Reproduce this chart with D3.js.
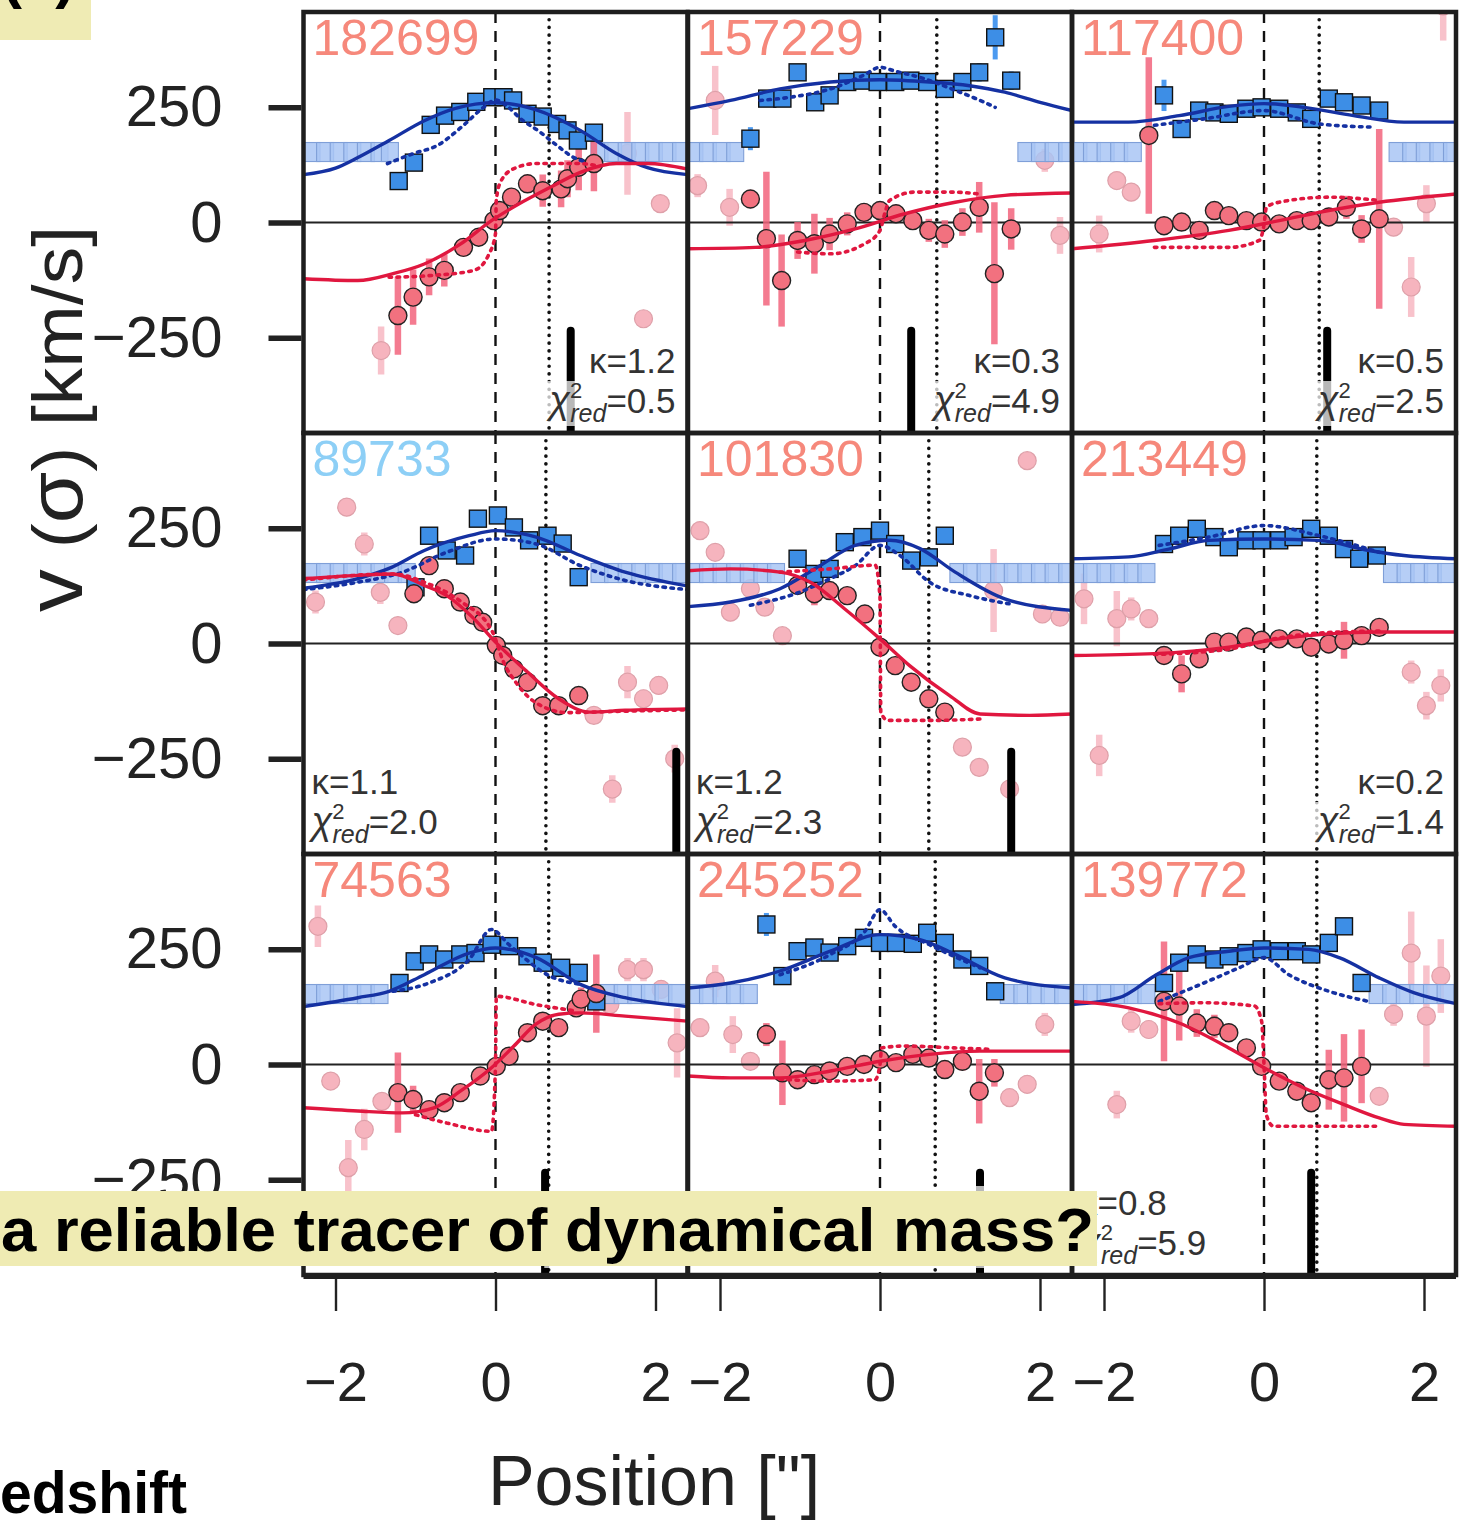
<!DOCTYPE html>
<html>
<head>
<meta charset="utf-8">
<script src="https://cdn.jsdelivr.net/npm/d3@7"></script>
<style>
  body { margin: 0; background: #fff; }
  svg { display: block; }
</style>
</head>
<body>
<div id="chart"></div>
<script>
// Panels are read left to right, top to bottom
const galaxyIds = ["182699", "157229", "117400", "89733", "101830", "213449", "74563", "245252", "139772"];
const kappaValues = ["1.2", "0.3", "0.5", "1.1", "1.2", "0.2", "0.9", "0.7", "0.8"];
const chiValues = ["0.5", "4.9", "2.5", "2.0", "2.3", "1.4", "1.6", "1.2", "5.9"];
const dottedLineX = [0.67, 0.71, 0.69, 0.63, 0.61, 0.66, 0.665, 0.69, 0.66];
const beamBarX = [0.94, 0.39, 0.79, 2.26, 1.64, null, 0.62, 1.25, 0.59];
const beamBarTop = -235;
const maskedLevel = 153;
const xTicks = [-2, 0, 2];
const yTicks = [-250, 0, 250];

// sigma outside the fitted range (pale squares)
const maskedX = [
  [-2.30, -2.13, -1.96, -1.79, -1.62, -1.45, -1.32, 1.30, 1.47, 1.64, 1.81, 1.98, 2.15, 2.32],
  [-2.32, -2.15, -1.98, -1.81, 1.83, 2.00, 2.17, 2.34],
  [-2.32, -2.15, -1.98, -1.81, -1.64, 1.67, 1.84, 2.01, 2.18, 2.35],
  [-2.30, -2.13, -1.96, -1.79, -1.62, -1.45, -1.28, -1.11, 1.30, 1.47, 1.64, 1.81, 1.98, 2.15, 2.32],
  [-2.32, -2.15, -1.98, -1.81, -1.64, -1.47, -1.30, 0.98, 1.15, 1.32, 1.49, 1.66, 1.83, 2.00, 2.17, 2.34],
  [-2.32, -2.15, -1.98, -1.81, -1.64, -1.47, 1.60, 1.77, 1.94, 2.11, 2.28],
  [-2.30, -2.13, -1.96, -1.79, -1.62, -1.45, 1.42, 1.59, 1.76, 1.93, 2.10, 2.27],
  [-2.32, -2.15, -1.98, -1.81, -1.64, 1.61, 1.78, 1.95, 2.12, 2.29],
  [-2.32, -2.15, -1.98, -1.81, -1.64, -1.47, 1.42, 1.59, 1.76, 1.93, 2.10, 2.27]
];

// [position, sigma, error]
const sigmaObs = [
  [[-1.21, 90, 12], [-1.02, 130, 12], [-0.81, 212, 10], [-0.63, 232, 10], [-0.44, 240, 10], [-0.24, 262, 10], [-0.04, 272, 14], [0.10, 272, 14], [0.22, 265, 10], [0.40, 236, 10], [0.59, 230, 10], [0.77, 214, 10], [0.90, 200, 10], [1.03, 178, 12], [1.23, 195, 12]],
  [[-1.62, 182, 25], [-1.41, 269, 15], [-1.22, 269, 12], [-1.03, 326, 15], [-0.81, 261, 12], [-0.63, 276, 10], [-0.41, 305, 10], [-0.22, 308, 10], [-0.03, 305, 10], [0.19, 305, 10], [0.38, 308, 10], [0.59, 305, 10], [0.81, 290, 12], [1.03, 305, 12], [1.24, 326, 20], [1.44, 402, 48], [1.64, 308, 20]],
  [[-1.25, 276, 34], [-1.03, 203, 12], [-0.81, 243, 10], [-0.62, 239, 10], [-0.44, 236, 10], [-0.22, 247, 10], [-0.03, 250, 10], [0.19, 247, 10], [0.41, 239, 10], [0.59, 225, 10], [0.81, 269, 12], [1.00, 261, 12], [1.22, 254, 12], [1.44, 243, 15]],
  [[-1.00, 122, 12], [-0.83, 234, 12], [-0.61, 202, 12], [-0.38, 191, 12], [-0.22, 271, 12], [0.03, 278, 12], [0.23, 252, 10], [0.42, 224, 10], [0.65, 234, 10], [0.84, 217, 10], [1.04, 144, 12]],
  [[-1.03, 184, 12], [-0.82, 151, 12], [-0.63, 162, 12], [-0.44, 220, 12], [-0.22, 231, 10], [0.00, 245, 10], [0.19, 216, 10], [0.39, 180, 10], [0.61, 187, 12], [0.81, 234, 12]],
  [[-1.25, 216, 15], [-1.06, 234, 12], [-0.84, 249, 12], [-0.62, 231, 10], [-0.44, 209, 10], [-0.22, 224, 10], [-0.03, 224, 10], [0.19, 224, 10], [0.37, 231, 10], [0.59, 249, 10], [0.81, 234, 10], [1.00, 205, 12], [1.19, 184, 12], [1.41, 191, 15]],
  [[-1.20, 177, 12], [-1.01, 224, 12], [-0.83, 239, 10], [-0.64, 228, 10], [-0.44, 239, 10], [-0.25, 242, 10], [-0.05, 260, 10], [0.17, 257, 10], [0.40, 235, 10], [0.59, 221, 10], [0.82, 210, 10], [1.04, 199, 12], [1.26, 137, 15]],
  [[-1.42, 304, 25], [-1.22, 192, 12], [-1.03, 246, 12], [-0.82, 254, 10], [-0.63, 243, 10], [-0.41, 257, 10], [-0.20, 275, 10], [0.00, 264, 10], [0.20, 264, 10], [0.41, 262, 10], [0.59, 286, 12], [0.81, 264, 12], [1.03, 228, 12], [1.24, 214, 12], [1.44, 159, 12]],
  [[-1.25, 177, 15], [-1.06, 221, 12], [-0.84, 239, 10], [-0.62, 228, 10], [-0.44, 235, 10], [-0.22, 242, 10], [-0.03, 250, 10], [0.19, 246, 10], [0.41, 246, 10], [0.59, 239, 10], [0.81, 264, 12], [1.00, 300, 15], [1.22, 177, 15]]
];

// [position, velocity, error]
const velObs = [
  [[-1.22, -202, 85], [-1.03, -162, 60], [-0.83, -118, 40], [-0.64, -104, 35], [-0.40, -54, 20], [-0.21, -32, 18], [-0.02, 4, 15], [0.05, 26, 15], [0.20, 55, 15], [0.40, 84, 20], [0.59, 69, 35], [0.82, 73, 40], [0.90, 95, 40], [1.04, 120, 50], [1.23, 128, 60]],
  [[-1.62, 51, 20], [-1.42, -35, 145], [-1.23, -126, 100], [-1.03, -39, 40], [-0.82, -46, 65], [-0.63, -25, 35], [-0.41, -3, 25], [-0.20, 22, 20], [0.00, 26, 20], [0.20, 19, 20], [0.41, 4, 20], [0.61, -17, 25], [0.81, -25, 30], [1.03, 1, 30], [1.24, 33, 55], [1.43, -111, 155], [1.64, -14, 45]],
  [[-1.44, 189, 170], [-1.25, -7, 15], [-1.03, 1, 15], [-0.81, -17, 20], [-0.62, 26, 15], [-0.44, 15, 15], [-0.22, 4, 15], [-0.03, 1, 15], [0.19, -3, 15], [0.41, 4, 15], [0.59, 4, 15], [0.81, 12, 20], [1.03, 33, 25], [1.22, -14, 30], [1.44, 8, 195]],
  [[-1.02, 108, 20], [-0.83, 169, 20], [-0.64, 119, 20], [-0.44, 90, 15], [-0.27, 61, 15], [-0.16, 46, 15], [0.01, -4, 15], [0.09, -26, 15], [0.23, -55, 15], [0.40, -84, 15], [0.59, -135, 15], [0.79, -135, 15], [1.04, -113, 15]],
  [[-1.03, 126, 20], [-0.82, 108, 25], [-0.63, 115, 15], [-0.41, 104, 15], [-0.19, 64, 15], [0.00, -8, 15], [0.19, -48, 15], [0.39, -84, 15], [0.61, -120, 15], [0.81, -149, 20]],
  [[-1.25, -26, 20], [-1.03, -66, 40], [-0.81, -33, 20], [-0.62, 3, 15], [-0.44, 3, 15], [-0.22, 14, 15], [-0.03, 7, 15], [0.19, 10, 15], [0.41, 10, 15], [0.59, -8, 15], [0.81, -1, 20], [1.00, 7, 40], [1.22, 17, 20], [1.44, 35, 15]],
  [[-1.22, -61, 87], [-1.03, -76, 30], [-0.83, -98, 20], [-0.64, -83, 20], [-0.44, -61, 15], [-0.19, -25, 15], [0.01, -4, 15], [0.17, 18, 15], [0.40, 69, 15], [0.59, 94, 15], [0.79, 80, 15], [1.01, 123, 20], [1.07, 142, 25], [1.26, 154, 85]],
  [[-1.42, 65, 25], [-1.22, -18, 70], [-1.03, -33, 20], [-0.82, -22, 15], [-0.63, -14, 15], [-0.41, -4, 15], [-0.20, 0, 15], [0.00, 11, 15], [0.20, 4, 15], [0.41, 22, 15], [0.61, 14, 15], [0.81, -11, 20], [1.03, 7, 20], [1.24, -58, 70], [1.43, -18, 30]],
  [[-1.25, 137, 130], [-1.06, 127, 75], [-0.84, 90, 30], [-0.62, 83, 25], [-0.44, 69, 20], [-0.22, 36, 15], [-0.03, -4, 15], [0.19, -36, 15], [0.41, -58, 15], [0.59, -83, 15], [0.81, -33, 65], [1.00, -29, 95], [1.22, -4, 80]]
];

// excluded velocity points (pale circles)
const velExcl = [
  [[-1.43, -278, 52], [1.65, 150, 90], [1.85, -209, 15], [2.06, 41, 15]],
  [[-2.28, 80, 25], [-2.06, 265, 75], [-1.88, 33, 40], [2.06, 135, 25], [2.25, -28, 40]],
  [[-2.06, -25, 40], [-1.84, 91, 20], [-1.66, 66, 20], [1.62, -10, 20], [1.84, -140, 65], [2.03, 41, 40], [2.24, 470, 75]],
  [[-2.25, 90, 25], [-1.86, 296, 20], [-1.64, 216, 25], [-1.44, 111, 25], [-1.22, 39, 15], [1.23, -156, 15], [1.46, -316, 30], [1.65, -84, 35], [1.85, -120, 20], [2.04, -91, 20], [2.24, -250, 30]],
  [[-2.25, 245, 20], [-2.06, 198, 15], [-1.87, 68, 20], [-1.62, 119, 20], [-1.44, 79, 15], [-1.22, 17, 15], [1.03, -225, 15], [1.24, -269, 15], [1.42, 115, 90], [1.62, -316, 20], [1.84, 397, 15], [2.03, 64, 20], [2.25, 57, 15]],
  [[-2.25, 97, 55], [-2.06, -243, 45], [-1.84, 54, 60], [-1.66, 75, 25], [-1.44, 54, 20], [1.84, -62, 25], [2.03, -135, 30], [2.21, -91, 35]],
  [[-2.22, 300, 45], [-2.06, -36, 15], [-1.84, -224, 60], [-1.64, -141, 45], [-1.42, -80, 15], [1.43, 130, 20], [1.65, 206, 25], [1.85, 206, 25], [2.07, 163, 20], [2.27, 47, 75]],
  [[-2.25, 80, 20], [-2.06, 181, 35], [-1.84, 65, 40], [-1.62, 7, 15], [1.62, -72, 20], [1.84, -43, 20], [2.06, 87, 25]],
  [[-1.84, -87, 30], [-1.66, 94, 25], [-1.44, 76, 20], [1.44, -69, 15], [1.62, 109, 25], [1.84, 242, 90], [2.03, 105, 110], [2.21, 192, 80]]
];

// model curves, [position, value]
const sigmaFit = [
  [[-2.4, 104], [-2.0, 118], [-1.72, 141], [-1.33, 178], [-0.89, 221], [-0.5, 248], [0, 260], [0.5, 245], [1.06, 200], [1.51, 150], [1.9, 119], [2.4, 104]],
  [[-2.4, 247], [-1.87, 265], [-1.25, 290], [-0.62, 305], [0, 310], [0.62, 305], [1.12, 297], [1.56, 283], [2.0, 261], [2.4, 243]],
  [[-2.4, 218], [-1.69, 218], [-1.06, 232], [-0.44, 252], [0, 258], [0.5, 250], [1.12, 232], [1.75, 218], [2.4, 218]],
  [[-2.4, 120], [-1.72, 141], [-1.33, 163], [-0.89, 202], [-0.33, 234], [0, 245], [0.51, 231], [1.06, 191], [1.62, 155], [2.4, 125]],
  [[-2.4, 80], [-1.87, 90], [-1.25, 119], [-0.75, 169], [-0.31, 213], [0.12, 224], [0.5, 206], [0.94, 155], [1.56, 97], [2.4, 72]],
  [[-2.4, 184], [-1.69, 188], [-1.19, 205], [-0.69, 224], [0, 227], [0.69, 224], [1.31, 202], [1.75, 191], [2.4, 184]],
  [[-2.4, 126], [-1.72, 145], [-1.33, 159], [-0.89, 195], [-0.33, 242], [0, 253], [0.51, 232], [1.06, 174], [1.62, 145], [2.4, 126]],
  [[-2.4, 166], [-1.87, 177], [-1.25, 203], [-0.62, 246], [0, 282], [0.5, 271], [0.94, 239], [1.56, 188], [2.4, 166]],
  [[-2.4, 130], [-1.81, 145], [-1.37, 192], [-0.94, 232], [-0.44, 246], [0, 253], [0.56, 250], [0.94, 232], [1.44, 188], [1.87, 156], [2.4, 132]]
];
const sigmaFitDot = [
  [[-1.35, 128], [-1.02, 150], [-0.73, 167], [-0.4, 211], [-0.15, 250], [0, 266], [0.15, 252], [0.31, 226], [0.56, 196], [0.77, 167], [0.98, 141], [1.1, 133]],
  [[-1.5, 265], [-1.12, 272], [-0.62, 290], [-0.2, 320], [0, 337], [0.2, 328], [0.5, 315], [0.94, 287], [1.25, 265], [1.44, 250]],
  [[-1.37, 211], [-0.75, 225], [0, 243], [0.69, 214], [1.37, 207]],
  [[-2.4, 117], [-1.72, 133], [-1.16, 155], [-0.61, 198], [0, 227], [0.51, 216], [1.06, 169], [1.62, 137], [2.4, 117]],
  [[-1.62, 83], [-1.06, 108], [-0.62, 141], [-0.31, 169], [0, 213], [0.25, 191], [0.62, 133], [1.12, 104], [1.62, 86]],
  [[-1.31, 213], [-0.69, 231], [0, 256], [0.69, 234], [1.44, 198]],
  [[-1.28, 159], [-0.83, 177], [-0.33, 228], [-0.05, 293], [0.17, 260], [0.68, 192], [1.07, 174]],
  [[-1.25, 195], [-0.62, 239], [-0.19, 289], [0, 336], [0.19, 300], [0.62, 260], [1.25, 210]],
  [[-1.31, 137], [-0.75, 177], [-0.31, 210], [0, 232], [0.31, 195], [0.81, 159], [1.31, 137]]
];
const velFit = [
  [[-2.4, -122], [-1.72, -126], [-1.28, -111], [-0.89, -90], [-0.44, -47], [-0.05, 4], [0.29, 40], [0.68, 76], [1.06, 109], [1.51, 128], [1.9, 128], [2.4, 116]],
  [[-2.4, -57], [-1.56, -54], [-0.94, -39], [-0.31, -14], [0.31, 19], [0.94, 44], [1.56, 59], [2.4, 64]],
  [[-2.4, -57], [-1.37, -39], [-0.44, -17], [0.19, 4], [0.81, 26], [1.44, 44], [2.4, 62]],
  [[-2.4, 141], [-1.72, 148], [-1.28, 151], [-0.89, 126], [-0.61, 104], [-0.27, 54], [0, 3], [0.40, -62], [0.79, -120], [1.18, -149], [1.62, -145], [2.4, -142]],
  [[-2.4, 158], [-1.87, 162], [-1.25, 155], [-0.87, 133], [-0.44, 75], [0, 10], [0.37, -48], [0.87, -113], [1.25, -153], [1.87, -156], [2.4, -153]],
  [[-2.4, -26], [-1.37, -22], [-0.44, -8], [0.19, 10], [0.81, 21], [1.44, 25], [2.4, 25]],
  [[-2.4, -94], [-1.72, -101], [-1.16, -105], [-0.77, -94], [-0.44, -58], [-0.05, -7], [0.23, 40], [0.5, 87], [0.79, 109], [1.06, 112], [1.62, 105], [2.4, 94]],
  [[-2.4, -25], [-1.87, -29], [-1.25, -29], [-0.62, -14], [0, 7], [0.62, 22], [1.25, 29], [2.4, 29]],
  [[-2.4, 137], [-1.69, 123], [-1.06, 90], [-0.44, 36], [0, -7], [0.5, -51], [1.0, -87], [1.44, -116], [1.75, -130], [2.4, -134]]
];
const velFitDot = [
  [[-1.33, -119], [-0.8, -115], [-0.27, -104], [-0.08, -68], [0.0, -24], [0.01, 48], [0.06, 87], [0.23, 117], [0.51, 128], [1.06, 128], [1.25, 124]],
  [[-1.03, -64], [-0.62, -68], [-0.19, -46], [0, -17], [0.06, 20], [0.12, 48], [0.44, 66], [0.88, 66], [1.25, 62]],
  [[-1.37, -54], [-0.44, -54], [-0.06, -39], [0.0, -5], [0.03, 33], [0.19, 44], [0.81, 55], [1.44, 48]],
  [[-2.4, 138], [-1.28, 151], [-0.89, 133], [-0.44, 92], [-0.04, 26], [0.1, -40], [0.27, -88], [0.5, -128], [0.9, -150], [1.6, -147], [2.4, -144]],
  [[-1.25, 155], [-0.62, 162], [-0.06, 170], [0.0, 100], [0.01, -150], [0.1, -167], [0.62, -167], [1.25, -164]],
  [[-1.37, -24], [-0.44, -12], [0.19, 12], [0.81, 24], [1.44, 27]],
  [[-1.0, -109], [-0.61, -127], [-0.05, -145], [0.0, 0], [0.01, 148], [0.51, 130], [1.01, 116]],
  [[-1.25, -32], [-0.62, -36], [-0.06, -33], [0.0, 0], [0.02, 36], [0.31, 40], [0.94, 36], [1.37, 33]],
  [[-1.31, 132], [-0.75, 134], [-0.12, 127], [-0.03, 94], [0.0, 0], [0.03, -110], [0.12, -134], [0.6, -134], [1.44, -134]]
];

// Layout
const W = 1465, H = 1520;
const colLeft = [303.5, 688, 1072];
const rowTop = [12, 433, 854];
const pw = 384, ph = 421;
const textSide = ["end", "end", "end", "start", "start", "end", "end", "end", "start"];
const font = "'Liberation Sans', Arial, Helvetica, sans-serif";

const svg = d3.select("#chart").append("svg")
    .attr("width", W)
    .attr("height", H)
    .style("font-family", font);
const defs = svg.append("defs");

galaxyIds.forEach((id, i) => {
    const col = i % 3, row = Math.floor(i / 3);
    const L = colLeft[col], T = rowTop[row];
    const x = d3.scaleLinear().domain([-2.4, 2.4]).range([L, L + pw]);
    const y = d3.scaleLinear().domain([-457, 457]).range([T + ph, T]);

    defs.append("clipPath").attr("id", "clip" + i)
        .append("rect").attr("x", L).attr("y", T).attr("width", pw).attr("height", ph);
    const g = svg.append("g").attr("clip-path", `url(#clip${i})`);

    // excluded points
    g.selectAll(".pbar").data(velExcl[i]).join("line")
        .attr("x1", d => x(d[0])).attr("x2", d => x(d[0]))
        .attr("y1", d => y(d[1] - d[2])).attr("y2", d => y(d[1] + d[2]))
        .attr("stroke", "#f8c2cb").attr("stroke-width", 6.5);
    g.selectAll(".pdot").data(velExcl[i]).join("circle")
        .attr("cx", d => x(d[0])).attr("cy", d => y(d[1])).attr("r", 9)
        .attr("fill", "#f6b4be").attr("stroke", "#dea0a9").attr("stroke-width", 1.2);

    // masked sigma squares
    g.selectAll(".msq").data(maskedX[i]).join("rect")
        .attr("x", d => x(d) - 8.5).attr("y", y(maskedLevel) - 9.5)
        .attr("width", 17).attr("height", 19)
        .attr("fill", "#a9c6f5").attr("fill-opacity", 0.85)
        .attr("stroke", "#7f9fd8").attr("stroke-width", 1.1);

    // reference lines
    g.append("line").attr("x1", x(0)).attr("x2", x(0)).attr("y1", T).attr("y2", T + ph)
        .attr("stroke", "#111").attr("stroke-width", 2.4).attr("stroke-dasharray", "11,8");
    g.append("line").attr("x1", x(dottedLineX[i])).attr("x2", x(dottedLineX[i])).attr("y1", T).attr("y2", T + ph)
        .attr("stroke", "#111").attr("stroke-width", 3.6).attr("stroke-linecap", "round")
        .attr("stroke-dasharray", "0.1,7.6");
    g.append("line").attr("x1", L).attr("x2", L + pw).attr("y1", y(0)).attr("y2", y(0))
        .attr("stroke", "#222").attr("stroke-width", 2);

    if (beamBarX[i] !== null) {
        g.append("line").attr("x1", x(beamBarX[i])).attr("x2", x(beamBarX[i]))
            .attr("y1", y(beamBarTop)).attr("y2", T + ph + 10)
            .attr("stroke", "#000").attr("stroke-width", 8).attr("stroke-linecap", "round");
    }

    // error bars
    g.selectAll(".rbar").data(velObs[i]).join("line")
        .attr("x1", d => x(d[0])).attr("x2", d => x(d[0]))
        .attr("y1", d => y(d[1] - d[2])).attr("y2", d => y(d[1] + d[2]))
        .attr("stroke", "#f2647c").attr("stroke-opacity", 0.85).attr("stroke-width", 6.5);
    g.selectAll(".bbar").data(sigmaObs[i]).join("line")
        .attr("x1", d => x(d[0])).attr("x2", d => x(d[0]))
        .attr("y1", d => y(d[1] - d[2])).attr("y2", d => y(d[1] + d[2]))
        .attr("stroke", "#4c9af0").attr("stroke-width", 5);

    // observed sigma and velocity
    g.selectAll(".bsq").data(sigmaObs[i]).join("rect")
        .attr("x", d => x(d[0]) - 8.5).attr("y", d => y(d[1]) - 8.5)
        .attr("width", 17).attr("height", 17)
        .attr("fill", "#3d8ee6").attr("stroke", "#111").attr("stroke-width", 1.4);
    g.selectAll(".rdot").data(velObs[i]).join("circle")
        .attr("cx", d => x(d[0])).attr("cy", d => y(d[1])).attr("r", 9)
        .attr("fill", "#f2717f").attr("stroke", "#222").attr("stroke-width", 1.4);

    // model curves
    const line = d3.line().x(d => x(d[0])).y(d => y(d[1])).curve(d3.curveMonotoneX);
    g.append("path").attr("d", line(sigmaFit[i])).attr("fill", "none")
        .attr("stroke", "#1531a2").attr("stroke-width", 3.4);
    g.append("path").attr("d", line(sigmaFitDot[i])).attr("fill", "none")
        .attr("stroke", "#1531a2").attr("stroke-width", 3.6).attr("stroke-linecap", "round")
        .attr("stroke-dasharray", "2.5,5.5");
    g.append("path").attr("d", line(velFit[i])).attr("fill", "none")
        .attr("stroke", "#e0173f").attr("stroke-width", 3.4);
    g.append("path").attr("d", line(velFitDot[i])).attr("fill", "none")
        .attr("stroke", "#e0173f").attr("stroke-width", 3.6).attr("stroke-linecap", "round")
        .attr("stroke-dasharray", "2.5,5.5");

    // kappa and reduced chi-square
    const side = textSide[i];
    const tx = side === "end" ? L + pw - 12 : L + 8;
    const kt = g.append("text").attr("x", tx).attr("y", T + 361)
        .attr("text-anchor", side).attr("fill", "#333").style("font-size", "35px")
        .text("κ=" + kappaValues[i]);
    const ct = g.append("text").attr("x", tx).attr("y", T + 401)
        .attr("text-anchor", side).attr("fill", "#333").style("font-size", "35px");
    ct.append("tspan").style("font-style", "italic").style("font-size", "38px").text("χ");
    ct.append("tspan").attr("dy", -15).style("font-size", "22px").text("2");
    ct.append("tspan").attr("dx", -12).attr("dy", 24).style("font-size", "25px").style("font-style", "italic").text("red");
    ct.append("tspan").attr("dy", -9).text("=" + chiValues[i]);
    [kt, ct].forEach(t => {
        const bb = t.node().getBBox();
        g.insert("rect", () => t.node())
            .attr("x", bb.x - 2).attr("y", bb.y + 3).attr("width", bb.width + 4).attr("height", bb.height - 4)
            .attr("fill", "#fff").attr("fill-opacity", 0.72);
    });

    // galaxy id
    g.append("text").attr("x", L + 9).attr("y", T + 43)
        .attr("fill", id === "89733" ? "#8dcff6" : "#f6887b")
        .style("font-size", "50px")
        .text(id);

    // frame
    svg.append("rect").attr("x", L).attr("y", T).attr("width", pw).attr("height", ph)
        .attr("fill", "none").attr("stroke", "#1e1e1e").attr("stroke-width", 4.5);

    // axes
    if (col === 0) {
        const ay = svg.append("g").attr("transform", `translate(${L - 2},0)`)
            .call(d3.axisLeft(y).tickValues(yTicks).tickSize(33).tickPadding(46)
                .tickFormat(d => d < 0 ? "\u2212" + Math.abs(d) : d));
        ay.select(".domain").remove();
        ay.selectAll(".tick line").attr("stroke", "#222").attr("stroke-width", 5.5);
        ay.selectAll(".tick text").attr("fill", "#222").style("font-size", "58px").style("font-family", font);
    }
    if (row === 2) {
        const ax = svg.append("g").attr("transform", `translate(0,${T + ph + 2})`)
            .call(d3.axisBottom(x).tickValues(xTicks).tickSize(34).tickPadding(50)
                .tickFormat(d => d < 0 ? "\u2212" + Math.abs(d) : d));
        ax.select(".domain").remove();
        ax.selectAll(".tick line").attr("stroke", "#222").attr("stroke-width", 2.4);
        ax.selectAll(".tick text").attr("fill", "#222").style("font-size", "56px").style("font-family", font);
    }
});

// bottom spine
svg.append("line").attr("x1", colLeft[0]).attr("x2", colLeft[2] + pw)
    .attr("y1", rowTop[2] + ph + 2).attr("y2", rowTop[2] + ph + 2)
    .attr("stroke", "#1e1e1e").attr("stroke-width", 4);

// axis labels
const yl = svg.append("text")
    .attr("transform", "translate(82,612) rotate(-90)")
    .attr("fill", "#222").style("font-size", "70px")
    .attr("textLength", 386).attr("lengthAdjust", "spacingAndGlyphs");
yl.append("tspan").style("font-size", "80px").text("v");
yl.append("tspan").text(" (");
yl.append("tspan").style("font-size", "78px").text("σ");
yl.append("tspan").text(") [km/s]");

svg.append("text").attr("x", 654).attr("y", 1505).attr("text-anchor", "middle")
    .attr("fill", "#222").style("font-size", "70px").text("Position [\"]");

// slide overlays
svg.append("rect").attr("x", 0).attr("y", 0).attr("width", 91).attr("height", 40).attr("fill", "#efebb4");
svg.append("text").attr("x", 2).attr("y", -3).attr("fill", "#000")
    .style("font-size", "60px").style("font-weight", "bold").text("(c)");

svg.append("rect").attr("x", 0).attr("y", 1191).attr("width", 1097).attr("height", 75).attr("fill", "#efebb3");
svg.append("text").attr("x", 1).attr("y", 1251).attr("fill", "#000")
    .style("font-size", "62px").style("font-weight", "bold")
    .attr("textLength", 1093).attr("lengthAdjust", "spacingAndGlyphs")
    .text("a reliable tracer of dynamical mass?");

svg.append("text").attr("x", 0).attr("y", 1513).attr("fill", "#000")
    .style("font-size", "60px").style("font-weight", "bold")
    .attr("textLength", 187).attr("lengthAdjust", "spacingAndGlyphs")
    .text("edshift");
</script>
</body>
</html>
